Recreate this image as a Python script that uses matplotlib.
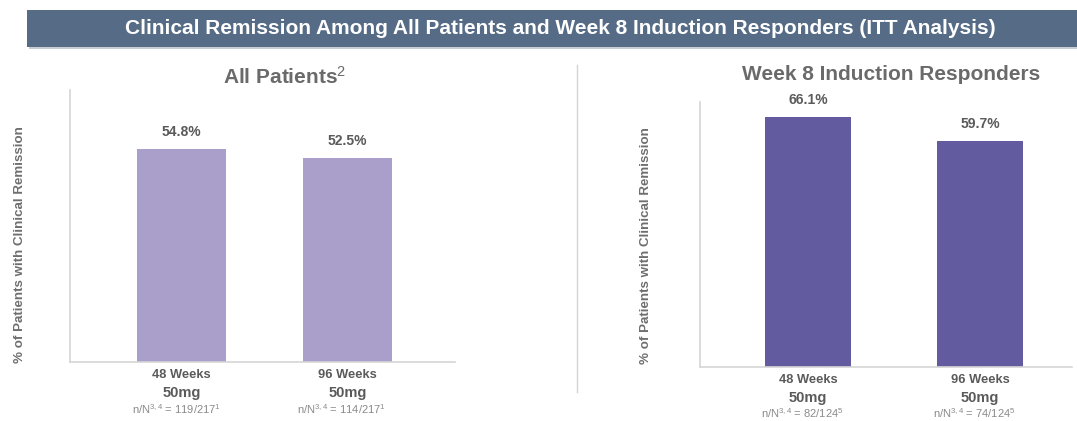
import matplotlib
matplotlib.use("Agg")
import matplotlib.pyplot as plt
from matplotlib.patches import Rectangle

plt.rcParams['font.family'] = ['Liberation Sans', 'DejaVu Sans']
plt.rcParams['mathtext.fontset'] = 'custom'
plt.rcParams['mathtext.rm'] = 'Liberation Sans'
plt.rcParams['mathtext.it'] = 'Liberation Sans:italic'
plt.rcParams['mathtext.bf'] = 'Liberation Sans:bold'

# Data
main_title = "Clinical Remission Among All Patients and Week 8 Induction Responders (ITT Analysis)"
y_label = "% of Patients with Clinical Remission"
weeks = ["48 Weeks", "96 Weeks"]
dose = ["50mg", "50mg"]

all_title = "All Patients$^{2}$"
all_values = [54.8, 52.5]
all_counts = ["n/N$^{3,4}$ = 119/217$^{1}$", "n/N$^{3,4}$ = 114/217$^{1}$"]

resp_title = "Week 8 Induction Responders"
resp_values = [66.1, 59.7]
resp_counts = ["n/N$^{3,4}$ = 82/124$^{5}$", "n/N$^{3,4}$ = 74/124$^{5}$"]

W, H = 1077, 421
fig = plt.figure(figsize=(W / 100, H / 100), dpi=100)
fig.patch.set_facecolor('white')

def box(l, t, r, b):
    # pixel box -> figure fraction rect
    return [l / W, (H - b) / H, (r - l) / W, (b - t) / H]

# title band
fig.patches.append(Rectangle((29 / W, (H - 49) / H), 1 - 29 / W, 38 / H,
                             transform=fig.transFigure, facecolor='#c8ccd3',
                             edgecolor='none', zorder=0))
fig.patches.append(Rectangle((27 / W, (H - 47) / H), 1 - 27 / W, 37 / H,
                             transform=fig.transFigure, facecolor='#566b86',
                             edgecolor='none', zorder=1))
fig.text(560 / W, (H - 29) / H, main_title, color='white', fontsize=15,
         fontweight='bold', ha='center', va='center')

# divider
fig.add_artist(plt.Line2D([577 / W, 577 / W], [(H - 392) / H, (H - 65) / H],
                          transform=fig.transFigure, color='#d4d4d4', lw=1))

gray = '#5a5a5a'
light = '#8a8a8a'


def panel(rect, values, counts, color, xlim, width, title, title_xy, ylab_xy, off):
    ax = fig.add_axes(rect)
    x = range(len(values))
    ax.bar(x, values, width=width, color=color, zorder=2)
    ax.set_xlim(*xlim)
    ax.set_ylim(0, 70)
    for s in ['top', 'right']:
        ax.spines[s].set_visible(False)
    for s in ['left', 'bottom']:
        ax.spines[s].set_color('#d6d6d6')
        ax.spines[s].set_linewidth(1.2)
    ax.set_xticks([])
    ax.set_yticks([])
    for i, v in enumerate(values):
        ax.annotate(f"{v}%", (i, v), xytext=(0, 7), textcoords='offset points',
                    ha='center', va='bottom', fontsize=10, fontweight='bold', color=gray)
        ax.annotate(weeks[i], (i, 0), xycoords=('data', 'axes fraction'),
                    xytext=(0, -5), textcoords='offset points', ha='center', va='top',
                    fontsize=9.3, fontweight='bold', color=gray)
        ax.annotate(dose[i], (i, 0), xycoords=('data', 'axes fraction'),
                    xytext=(0, -17), textcoords='offset points', ha='center', va='top',
                    fontsize=10.5, fontweight='bold', color=gray)
        ax.annotate(counts[i], (i, 0), xycoords=('data', 'axes fraction'),
                    xytext=(-4, -off), textcoords='offset points', ha='center', va='top',
                    fontsize=8, color=light)
    fig.text(title_xy[0] / W, (H - title_xy[1]) / H, title, fontsize=15,
             fontweight='bold', color='#6a6a6a', ha='center', va='center')
    fig.text(ylab_xy[0] / W, (H - ylab_xy[1]) / H, y_label, rotation=90, fontsize=9.6,
             fontweight='bold', color='#6e6e6e', ha='center', va='center')
    return ax


panel(box(70, 90, 455, 362), all_values, all_counts, '#a99fca',
      (-0.672, 1.648), 0.536, all_title, (285, 77), (20, 245), 29)
panel(box(700, 102, 1072, 367), resp_values, resp_counts, '#625b9f',
      (-0.628, 1.535), 0.5, resp_title, (891, 75), (646, 246), 28)

fig.savefig('out.png', dpi=100, facecolor='white')
